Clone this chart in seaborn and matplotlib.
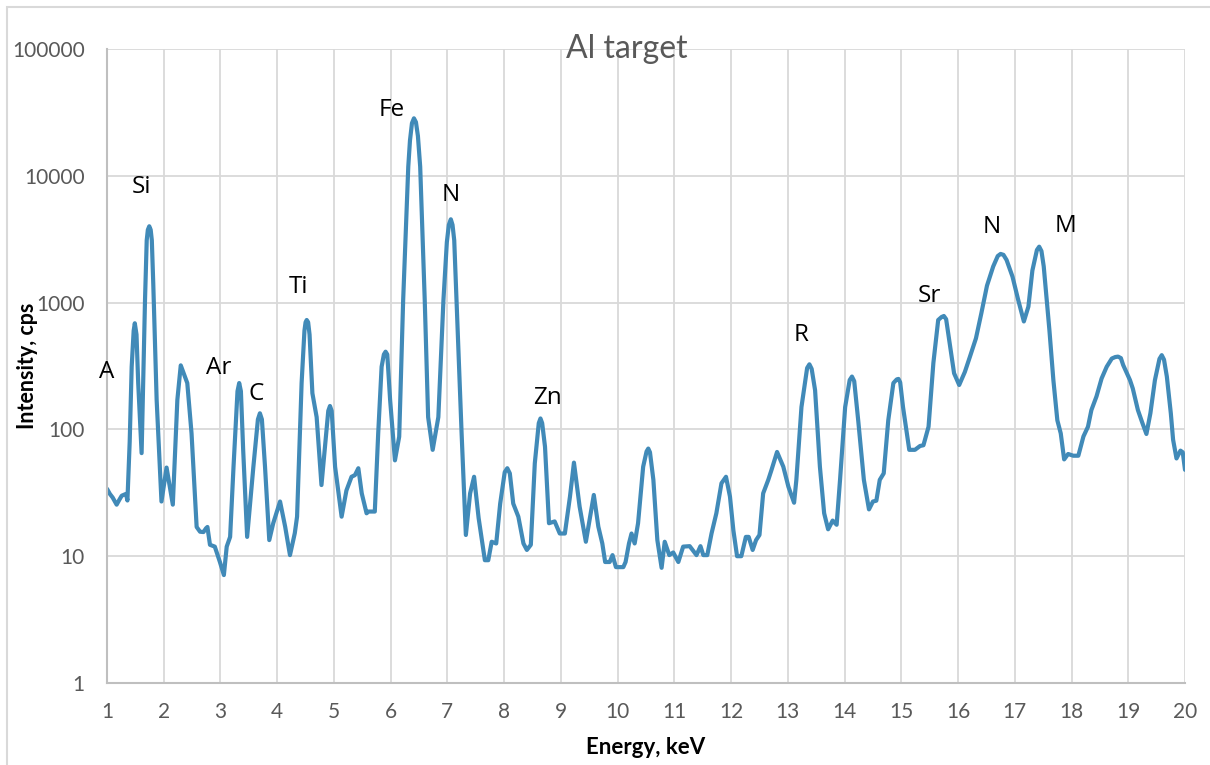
import matplotlib
matplotlib.use("Agg")
import matplotlib.pyplot as plt
from matplotlib.patches import Rectangle
from matplotlib.ticker import FixedLocator, FixedFormatter, NullLocator
import seaborn as sns
import pandas as pd

# ---- data ----
energy_kev = [
    1.00, 1.05, 1.10, 1.17, 1.22, 1.26, 1.335, 1.36, 1.40, 1.435, 1.47, 1.49, 1.52, 1.55, 1.61,
    1.67, 1.70, 1.72, 1.745, 1.77, 1.79, 1.815, 1.875, 1.96, 2.05, 2.16, 2.24, 2.30, 2.36, 2.415, 2.49,
    2.58, 2.64, 2.70, 2.745, 2.77, 2.815, 2.90, 2.99, 3.06, 3.11, 3.17, 3.23, 3.30, 3.33, 3.36,
    3.40, 3.47, 3.58, 3.66, 3.695, 3.73, 3.785, 3.86, 3.93, 4.05, 4.14, 4.225, 4.31, 4.35,
    4.43, 4.48, 4.50, 4.52, 4.545, 4.57, 4.62, 4.695, 4.78, 4.90, 4.93, 4.96, 5.02, 5.135, 5.22, 5.31, 5.37,
    5.43, 5.49, 5.575, 5.61, 5.72, 5.78, 5.84, 5.88, 5.91, 5.94, 5.99, 6.075, 6.15, 6.22, 6.31,
    6.34, 6.375, 6.41, 6.445, 6.48, 6.52, 6.60, 6.66, 6.74, 6.84, 6.93, 6.99, 7.025, 7.06, 7.09, 7.12, 7.16, 7.25, 7.325,
    7.40, 7.47, 7.55, 7.66, 7.72, 7.78, 7.86, 7.93, 8.01, 8.055, 8.10, 8.16, 8.25, 8.34, 8.40,
    8.47, 8.54, 8.61, 8.64, 8.67, 8.72, 8.79, 8.89, 8.98, 9.07, 9.16, 9.23, 9.33, 9.44, 9.58,
    9.66, 9.73, 9.78, 9.86, 9.91, 9.97, 10.10, 10.14, 10.20, 10.245, 10.30, 10.36, 10.45,
    10.51, 10.54, 10.57, 10.63, 10.70, 10.775, 10.83, 10.91, 10.98, 11.07, 11.155, 11.27,
    11.39, 11.46, 11.51, 11.58, 11.655, 11.74, 11.83, 11.91, 11.98, 12.04, 12.105, 12.18,
    12.26, 12.31, 12.38, 12.44, 12.50, 12.565, 12.655, 12.71, 12.81, 12.92, 13.01, 13.11,
    13.15, 13.24, 13.34, 13.38, 13.42, 13.48, 13.565, 13.64, 13.71, 13.79, 13.86, 13.92,
    14.01, 14.09, 14.13, 14.17, 14.24, 14.34, 14.43, 14.50, 14.56, 14.62, 14.69, 14.77,
    14.86, 14.92, 14.95, 14.98, 15.03, 15.14, 15.24, 15.33, 15.39, 15.48, 15.565, 15.65,
    15.71, 15.75, 15.79, 15.86, 15.93, 16.02, 16.12, 16.21, 16.315, 16.41, 16.51, 16.62,
    16.70, 16.75, 16.80, 16.855, 16.96, 17.06, 17.16, 17.24, 17.31, 17.39, 17.43, 17.47,
    17.51, 17.61, 17.68, 17.75, 17.81, 17.87, 17.94, 18.03, 18.12, 18.21, 18.29, 18.35,
    18.44, 18.53, 18.62, 18.71, 18.77, 18.82, 18.87, 18.91, 19.03, 19.08, 19.17, 19.25,
    19.32, 19.39, 19.47, 19.55, 19.59, 19.63, 19.68, 19.75, 19.79, 19.85, 19.92, 19.96, 20.00,
]
intensity_cps = [
    34, 31, 29, 25.5, 28, 30, 31, 27.5, 80, 312, 600, 687, 560, 232, 65,
    1050, 3100, 3750, 4000, 3750, 3100, 1430, 171, 27, 50, 25.5, 171, 320, 270, 232, 93,
    17, 15.6, 15.5, 16.6, 17, 12.3, 11.9, 9, 7.1, 11.9, 14.2, 50.8, 200, 232, 200,
    69, 14.2, 50.8, 120, 134, 120, 50.8, 13.4, 18.2, 27, 17.1, 10.2, 15.2, 20.5,
    232, 600, 700, 729, 700, 560, 193, 125, 36.4, 140, 153, 140, 50.8, 20.5, 33, 42.3, 43.6,
    49.4, 31.3, 21.8, 22.5, 22.5, 93, 312, 390, 410, 390, 171, 57, 87.6, 1050, 11800,
    19000, 26000, 28400, 26500, 20600, 11800, 1050, 125, 69, 125, 1050, 3000, 4100, 4540, 4100, 3100, 1050, 93, 14.7,
    31.3, 42.3, 20, 9.3, 9.3, 13, 12.6, 26, 46, 49.4, 45, 26, 20.5, 12.6, 11.2,
    12.3, 54, 112, 122, 112, 73, 18.2, 18.8, 15.1, 15.1, 29.5, 54.7, 24.6, 13, 30.4,
    17.1, 12.6, 9.0, 9.0, 10.2, 8.2, 8.2, 9.0, 12.6, 15.1, 12.6, 18.2, 50.8,
    67, 70.6, 66, 40, 13.4, 8.1, 13, 10.2, 10.7, 9.0, 11.9, 12,
    10.2, 12, 10.2, 10.2, 15.1, 21.8, 37.6, 42.3, 29.5, 16, 10, 10,
    14.2, 14.2, 11.2, 13.4, 14.7, 31.3, 40, 47.6, 66.4, 50.8, 35.3, 26.4,
    40, 150, 305, 326, 300, 204, 50.8, 21.8, 16.3, 19.1, 17.7, 40,
    150, 245, 261, 240, 118, 40, 23.4, 27, 27.4, 40, 45, 118,
    232, 248, 250, 235, 150, 69, 69, 74, 75, 105, 334, 729,
    770, 784, 740, 450, 277, 224, 284, 375, 522, 822, 1360, 1930,
    2330, 2420, 2380, 2170, 1600, 1050, 710, 930, 1790, 2600, 2760, 2550,
    1930, 608, 245, 118, 93, 58, 64, 62, 62, 88, 105, 142,
    182, 252, 312, 362, 372, 375, 365, 322, 245, 210, 142, 112,
    92, 134, 245, 360, 385, 355, 261, 134, 83, 59, 68, 66, 48,
]
peak_labels = ["A", "Si", "Ar", "C", "Ti", "Fe", "N", "Zn", "R", "Sr", "N", "M"]
label_energy = [1.00, 1.60, 2.97, 3.63, 4.37, 6.02, 7.06, 8.77, 13.23, 15.50, 16.60, 17.90]
label_intensity = [284, 8160, 305, 190, 1327, 33000, 7060, 177, 555, 1127, 3946, 4016]
x_ticks = list(range(1, 21))
y_ticks = [1, 10, 100, 1000, 10000, 100000]
y_tick_labels = ["1", "10", "100", "1000", "10000", "100000"]

df = pd.DataFrame({"Energy, keV": energy_kev, "Intensity, cps": intensity_cps})

# ---- figure ----
sns.set_theme(style="white")
plt.rcParams["font.family"] = ["Lato", "DejaVu Sans"]

W, H = 1210, 765
fig = plt.figure(figsize=(W / 100, H / 100), dpi=100)
ax = fig.add_axes([107 / W, 1 - 683 / H, (1185 - 107) / W, (683 - 49) / H])

line_color = "#418AB8"
sns.lineplot(data=df, x="Energy, keV", y="Intensity, cps", ax=ax, color=line_color,
             linewidth=3.0, sort=True, estimator=None)
for ln in ax.get_lines():
    ln.set_solid_joinstyle("round")
    ln.set_solid_capstyle("round")

ax.set_yscale("log")
ax.set_xlim(1, 20)
ax.set_ylim(1, 100000)
ax.xaxis.set_major_locator(FixedLocator(x_ticks))
ax.xaxis.set_minor_locator(NullLocator())
ax.yaxis.set_major_locator(FixedLocator(y_ticks))
ax.yaxis.set_major_formatter(FixedFormatter(y_tick_labels))
ax.yaxis.set_minor_locator(NullLocator())

ax.grid(True, which="major", color="#d9d9d9", linewidth=1.3)
ax.set_axisbelow(True)
for side in ["top", "right"]:
    ax.spines[side].set_visible(False)
for side in ["left", "bottom"]:
    ax.spines[side].set_color("#bfbfbf")
    ax.spines[side].set_linewidth(1.5)

ax.tick_params(axis="both", length=0, labelsize=15, labelcolor="#595959")
ax.tick_params(axis="x", pad=14)
ax.tick_params(axis="y", pad=16)

ax.set_xlabel("Energy, keV", fontsize=16, fontweight="bold", color="black")
ax.set_ylabel("Intensity, cps", fontsize=15.5, fontweight="bold", color="black")
ax.xaxis.label.set_va("center")
ax.yaxis.label.set_va("center")
ax.xaxis.set_label_coords(0.5, (683 - 747) / 634)
ax.yaxis.set_label_coords((28 - 107) / 1078, 0.5)

ax.set_title("Al target", fontsize=23, color="#595959", pad=0)
ax.title.set_position(((627 - 107) / 1078, (683 - 35) / 634))
ax.title.set_va("center")

for txt, ex, iy in zip(peak_labels, label_energy, label_intensity):
    ax.text(ex, iy, txt, ha="center", va="center", fontsize=17.5, color="black",
            family=["Open Sans", "DejaVu Sans"])

# outer chart frame
fig.add_artist(Rectangle((7 / W, -0.02), 1.2, 1 - 7 / H + 0.02, transform=fig.transFigure,
                         fill=False, edgecolor="#d9d9d9", linewidth=1.5))

fig.savefig("out.png", dpi=100)
